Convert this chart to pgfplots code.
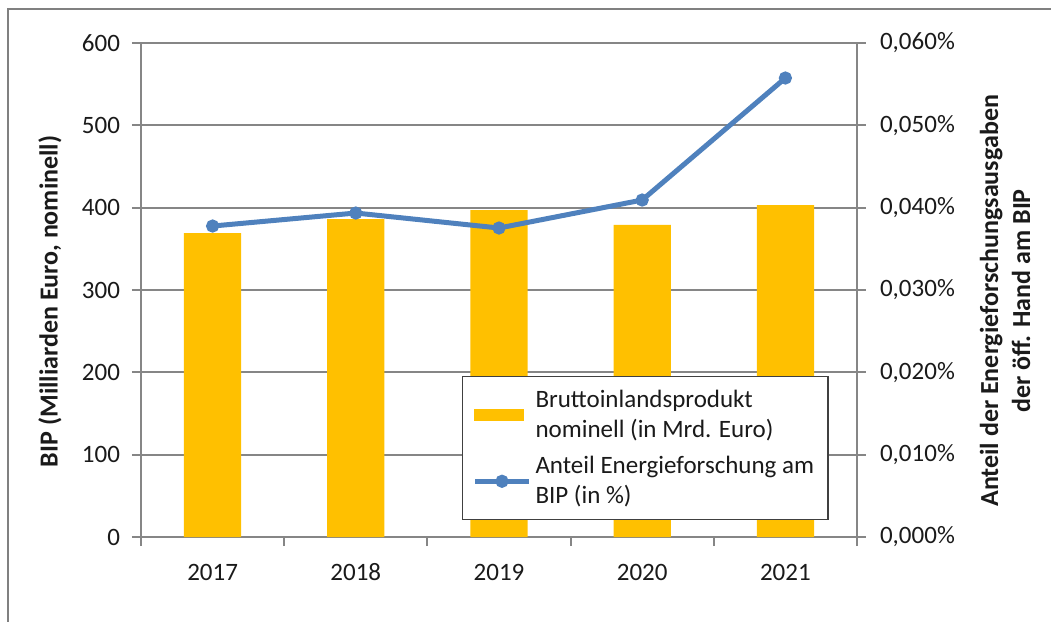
\documentclass[border=0pt]{standalone}
\usepackage{pgfplots}
\pgfplotsset{compat=1.18}
\usepackage{fontspec}
\setmainfont{Carlito}
\definecolor{barc}{HTML}{FFC000}
\definecolor{linec}{HTML}{4F81BD}
\definecolor{gridc}{HTML}{868686}
\definecolor{framec}{HTML}{808080}
\definecolor{legc}{HTML}{404040}
\definecolor{txtc}{HTML}{1A1A1A}
\begin{document}
\begin{tikzpicture}
\pgfplotsset{
  common/.style={
    at={(0,0)}, anchor=south west, scale only axis,
    width=358pt, height=247pt,
    xmin=-0.5, xmax=4.5,
    axis line style={draw=gridc, line width=1pt, -},
    tick align=outside, major tick length=4.5pt,
    ytick style={draw=gridc, line width=1pt},
    xtick style={draw=gridc, line width=1pt},
    ticklabel style={font=\fontsize{12.5}{15}\selectfont, text=txtc},
    /pgf/number format/assume math mode=true,
    scaled y ticks=false,
    label style={font=\bfseries\fontsize{13}{16}\selectfont, text=txtc},
  }
}
\begin{axis}[common,
  ymin=0, ymax=600,
  axis x line*=bottom, axis y line*=left,
  xtick={-0.5,0.5,...,4.5}, xticklabels={},
  extra x ticks={0,1,2,3,4},
  extra x tick labels={2017,2018,2019,2020,2021},
  extra x tick style={major tick length=0pt, xtick style={draw=none},
    xticklabel style={yshift=-9pt, text height=9pt, text depth=0pt}},
  ytick={0,100,...,600},
  yticklabel style={xshift=-2.5pt},
  ymajorgrids, grid style={draw=gridc, line width=1pt},
  ylabel={BIP (Milliarden Euro, nominell)},
  ylabel style={at={(axis description cs:-0.127,0.477)}, anchor=center},
]
\addplot[ybar, bar width=0.4, fill=barc, draw=none] coordinates {
 (0,369) (1,386) (2,397) (3,379) (4,403)};
\end{axis}
\begin{axis}[common,
  ymin=0, ymax=0.06,
  axis x line=none, axis y line*=right,
  ytick={0,0.01,0.02,0.03,0.04,0.05,0.06},
  yticklabels={{0,000\%},{0,010\%},{0,020\%},{0,030\%},{0,040\%},{0,050\%},{0,060\%}},
  yticklabel style={xshift=3.5pt},
  ylabel={Anteil der Energieforschungsausgaben\\der öff. Hand am BIP},
  ylabel style={at={(axis description cs:1.207,0.478)}, anchor=center, rotate=0, align=center},
  legend style={at={(0.448,0.034)}, anchor=south west, draw=legc, line width=0.75pt,
    font=\fontsize{12.5}{15}\selectfont, text=txtc, cells={align=left, anchor=west},
    row sep=4pt, inner xsep=5pt, inner ysep=4.5pt},
  legend cell align=left,
]
\addlegendimage{legend image code/.code={\fill[barc] (0pt,-2.75pt) rectangle (24pt,2.75pt);}}
\addlegendentry{Bruttoinlandsprodukt\\nominell (in Mrd. Euro)}
\addplot[linec, line width=2.5pt, mark=*, mark size=2pt, mark options={fill=linec, draw=linec},
  legend image code/.code={\draw[linec, line width=2.5pt] (0pt,0pt) -- (27pt,0pt); \fill[linec] (13.5pt,0pt) circle (2pt);}]
 coordinates {(0,0.03777) (1,0.03935) (2,0.03753) (3,0.04093) (4,0.05575)};
\addlegendentry{Anteil Energieforschung am\\BIP (in \%)}
\end{axis}
\draw[framec, line width=0.6pt] (-66.5pt,-50pt) -- (-66.5pt,264pt) -- (460pt,264pt);
\pgfresetboundingbox
\useasboundingbox (-70.5pt,-42.5pt) rectangle (455pt,268.5pt);
\end{tikzpicture}
\end{document}
